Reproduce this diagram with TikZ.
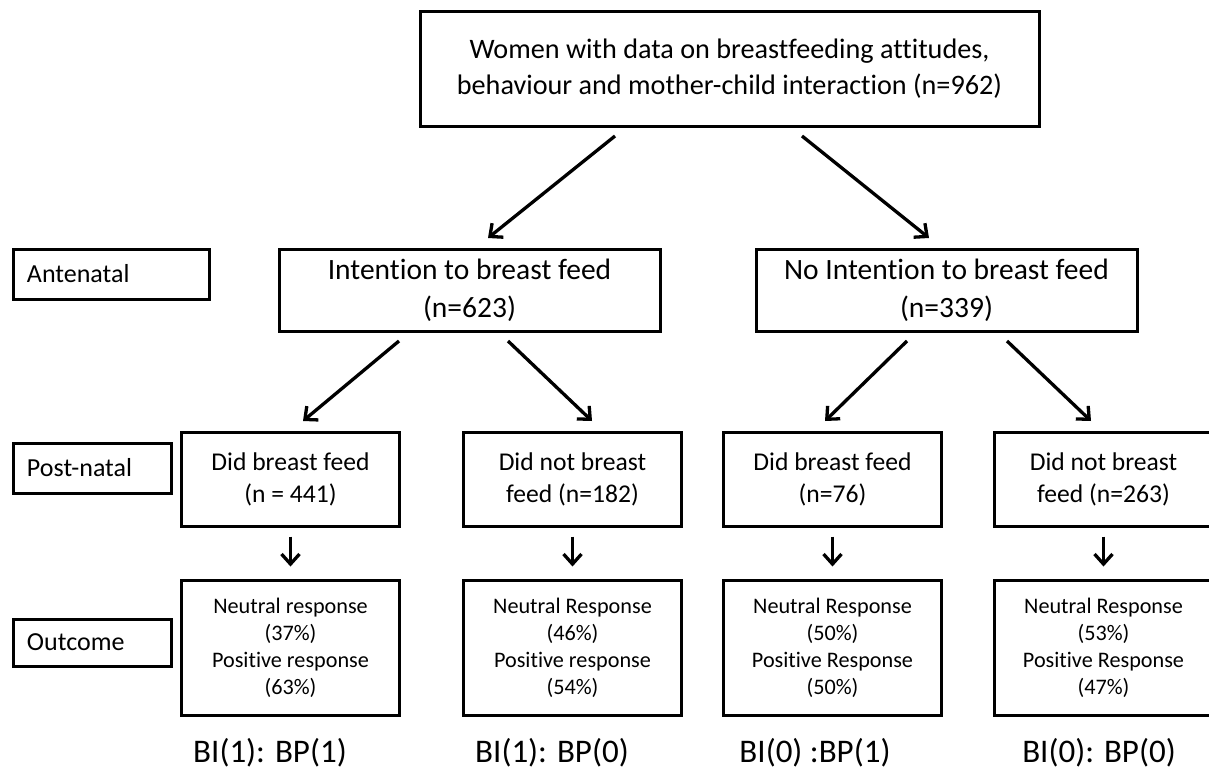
\documentclass[tikz,border=0pt]{standalone}
\usepackage{fontspec}
\setmainfont{Carlito}[Ligatures=CommonOff]
\usetikzlibrary{arrows.meta,shadows}

\begin{document}
\begin{tikzpicture}
[x=1pt,y=-1pt,
  boxDecorate/.style={shape=rectangle,draw,line width=3pt,fill=white,inner sep=0pt,align=center,
    drop shadow={shadow xshift=1pt,shadow yshift=-1pt,fill=black!35,opacity=1}},%
  stageDecorate/.style={boxDecorate,align=left,inner xsep=14pt,minimum height=#1},%
  arrowDecorate/.style={-{Straight Barb[length=10pt,width=18pt]},line width=3.3pt}]
\useasboundingbox (0,0) rectangle (1209,771);
\clip (0,0) rectangle (1209,771);
%% top box
\node (top) at (729.5,68.5) [boxDecorate,minimum width=619pt,minimum height=115pt,font=\fontsize{28.2}{36}\selectfont]
  {Women with data on breastfeeding attitudes,\\behaviour and mother-child interaction (n=962)};
%% stage labels
\node (ante) at (111,274) [stageDecorate=50pt,text width=168pt,font=\fontsize{26}{30}\selectfont] {Antenatal};
\node (post) at (92,468) [stageDecorate=50pt,text width=130pt,font=\fontsize{26}{30}\selectfont] {Post-natal};
\node (outc) at (92,642.5) [stageDecorate=47pt,text width=130pt,font=\fontsize{26}{30}\selectfont] {Outcome};
%% intention
\node (bi1) at (469.5,290) [boxDecorate,minimum width=381pt,minimum height=82pt,font=\fontsize{29.5}{38}\selectfont]
  {Intention to breast feed\\(n=623)};
\node (bi0) at (946.5,290) [boxDecorate,minimum width=381pt,minimum height=82pt,font=\fontsize{29.5}{38}\selectfont]
  {No Intention to breast feed\\(n=339)};
%% post-natal behaviour
\node (p11) at (290.5,479) [boxDecorate,minimum width=218pt,minimum height=94pt,font=\fontsize{25.6}{32}\selectfont]
  {Did breast feed\\(n = 441)};
\node (p10) at (572.5,479) [boxDecorate,minimum width=218pt,minimum height=94pt,font=\fontsize{25.6}{32}\selectfont]
  {Did not breast\\feed (n=182)};
\node (p01) at (832.5,479) [boxDecorate,minimum width=218pt,minimum height=94pt,font=\fontsize{25.6}{32}\selectfont]
  {Did breast feed\\(n=76)};
\node (p00) at (1103.5,479) [boxDecorate,minimum width=218pt,minimum height=94pt,font=\fontsize{25.6}{32}\selectfont]
  {Did not breast\\feed (n=263)};
%% outcomes
\node (o11) at (290.5,647.5) [boxDecorate,minimum width=218pt,minimum height=135pt,font=\fontsize{22.2}{27}\selectfont]
  {Neutral response\\(37\%)\\Positive response\\(63\%)};
\node (o10) at (572.5,647.5) [boxDecorate,minimum width=218pt,minimum height=135pt,font=\fontsize{22.2}{27}\selectfont]
  {Neutral Response\\(46\%)\\Positive response\\(54\%)};
\node (o01) at (832.5,647.5) [boxDecorate,minimum width=218pt,minimum height=135pt,font=\fontsize{22.2}{27}\selectfont]
  {Neutral Response\\(50\%)\\Positive Response\\(50\%)};
\node (o00) at (1103.5,647.5) [boxDecorate,minimum width=218pt,minimum height=135pt,font=\fontsize{22.2}{27}\selectfont]
  {Neutral Response\\(53\%)\\Positive Response\\(47\%)};
%% group codes
\node (c11) at (270,753) [font=\fontsize{33}{38}\selectfont] {BI(1): BP(1)};
\node (c10) at (552,753) [font=\fontsize{33}{38}\selectfont] {BI(1): BP(0)};
\node (c01) at (815,753) [font=\fontsize{33}{38}\selectfont] {BI(0) :BP(1)};
\node (c00) at (1099,753) [font=\fontsize{33}{38}\selectfont] {BI(0): BP(0)};
%% arrow ends
\coordinate (t1) at (615,136);
\coordinate (t2) at (802,136);
\coordinate (e1) at (488,238);
\coordinate (e2) at (929,238);
\coordinate (s11) at (399,341);
\coordinate (s10) at (508,341);
\coordinate (s01) at (907,341);
\coordinate (s00) at (1007,341);
\coordinate (f11) at (303,421);
\coordinate (f10) at (592,421);
\coordinate (f01) at (825,421);
\coordinate (f00) at (1091,421);
%% edges
\path
(t1) edge[arrowDecorate] (e1)
(t2) edge[arrowDecorate] (e2)
(s11) edge[arrowDecorate] (f11)
(s10) edge[arrowDecorate] (f10)
(s01) edge[arrowDecorate] (f01)
(s00) edge[arrowDecorate] (f00);
\path
(p11) edge[arrowDecorate,shorten <=9pt,shorten >=12pt] (o11)
(p10) edge[arrowDecorate,shorten <=9pt,shorten >=12pt] (o10)
(p01) edge[arrowDecorate,shorten <=9pt,shorten >=12pt] (o01)
(p00) edge[arrowDecorate,shorten <=9pt,shorten >=12pt] (o00);
\end{tikzpicture}
\end{document}
